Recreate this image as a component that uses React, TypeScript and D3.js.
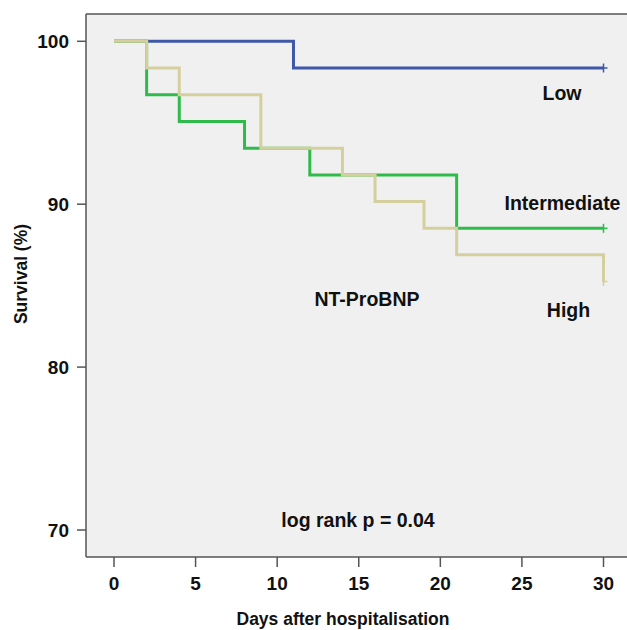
import React from "react";
import * as d3 from "d3";

const lowTimes = [0, 11, 30];
const lowSurv = [100, 98.36, 98.36];
const interTimes = [0, 2, 4, 8, 12, 21, 30];
const interSurv = [100, 96.72, 95.08, 93.44, 91.8, 88.52, 88.52];
const highTimes = [0, 2, 4, 9, 14, 16, 19, 21, 30];
const highSurv = [100, 98.36, 96.72, 93.44, 91.8, 90.16, 88.52, 86.89, 85.25];
const xTicks = [0, 5, 10, 15, 20, 25, 30];
const yTicks = [70, 80, 90, 100];

const series = [
  { name: "Low", times: lowTimes, surv: lowSurv, color: "#3f57a8" },
  { name: "Intermediate", times: interTimes, surv: interSurv, color: "#2fbb4a" },
  { name: "High", times: highTimes, surv: highSurv, color: "#d5cf9d" },
];

const W = 627;
const H = 630;
const left = 86;
const top = 14;
const bottom = 557;

export default function App() {
  const x = d3.scaleLinear().domain([0, 30]).range([114, 603.5]);
  const y = d3.scaleLinear().domain([70, 100]).range([530, 41.3]);
  const line = d3
    .line<[number, number]>()
    .x((d) => x(d[0]))
    .y((d) => y(d[1]))
    .curve(d3.curveStepAfter);
  const font = "'Liberation Sans', Arial, Helvetica, sans-serif";
  const axisColor = "#555";
  return (
    <svg
      width={W}
      height={H}
      style={{ position: "absolute", left: 0, top: 0, background: "#fff" }}
      fontFamily={font}
      fontWeight="bold"
    >
      <rect x={left} y={top} width={W - left + 10} height={bottom - top} fill="#f0f0f0" />
      {series.map((s) => {
        const pts = s.times.map((t, i) => [t, s.surv[i]] as [number, number]);
        const last = pts[pts.length - 1];
        return (
          <g key={s.name}>
            <path d={line(pts) || ""} fill="none" stroke={s.color} strokeWidth={3} />
            <line
              x1={x(last[0])}
              x2={x(last[0])}
              y1={y(last[1]) - 4.5}
              y2={y(last[1]) + 4.5}
              stroke={s.color}
              strokeWidth={1.5}
            />
            <line
              x1={x(last[0]) - 1}
              x2={x(last[0]) + 4}
              y1={y(last[1])}
              y2={y(last[1])}
              stroke={s.color}
              strokeWidth={1.5}
            />
          </g>
        );
      })}
      {/* frame */}
      <line x1={left} x2={W} y1={top} y2={top} stroke={axisColor} strokeWidth={1.5} />
      <line x1={left} x2={left} y1={top} y2={bottom} stroke={axisColor} strokeWidth={1.5} />
      <line x1={left} x2={W} y1={bottom} y2={bottom} stroke={axisColor} strokeWidth={1.5} />
      {xTicks.map((t) => (
        <g key={"x" + t}>
          <line x1={x(t)} x2={x(t)} y1={bottom} y2={bottom + 10} stroke={axisColor} strokeWidth={1.5} />
          <text x={x(t)} y={590} textAnchor="middle" fontSize={19} fill="#111">
            {t}
          </text>
        </g>
      ))}
      {yTicks.map((t) => (
        <g key={"y" + t}>
          <line x1={left - 9} x2={left} y1={y(t)} y2={y(t)} stroke={axisColor} strokeWidth={1.5} />
          <text x={69} y={y(t) + 7} textAnchor="end" fontSize={19} fill="#111">
            {t}
          </text>
        </g>
      ))}
      <text x={343} y={625} textAnchor="middle" fontSize={17.5} fill="#111">
        Days after hospitalisation
      </text>
      <text
        transform={`translate(27, 274) rotate(-90)`}
        textAnchor="middle"
        fontSize={17.5}
        fill="#111"
      >
        Survival (%)
      </text>
      <text x={562} y={100} textAnchor="middle" fontSize={19.5} fill="#111">Low</text>
      <text x={562.5} y={210} textAnchor="middle" fontSize={19.5} fill="#111">Intermediate</text>
      <text x={568.5} y={317} textAnchor="middle" fontSize={19.5} fill="#111">High</text>
      <text x={367} y={306} textAnchor="middle" fontSize={19.5} fill="#111">NT-ProBNP</text>
      <text x={358} y={527} textAnchor="middle" fontSize={19.5} fill="#111">log rank p = 0.04</text>
    </svg>
  );
}
